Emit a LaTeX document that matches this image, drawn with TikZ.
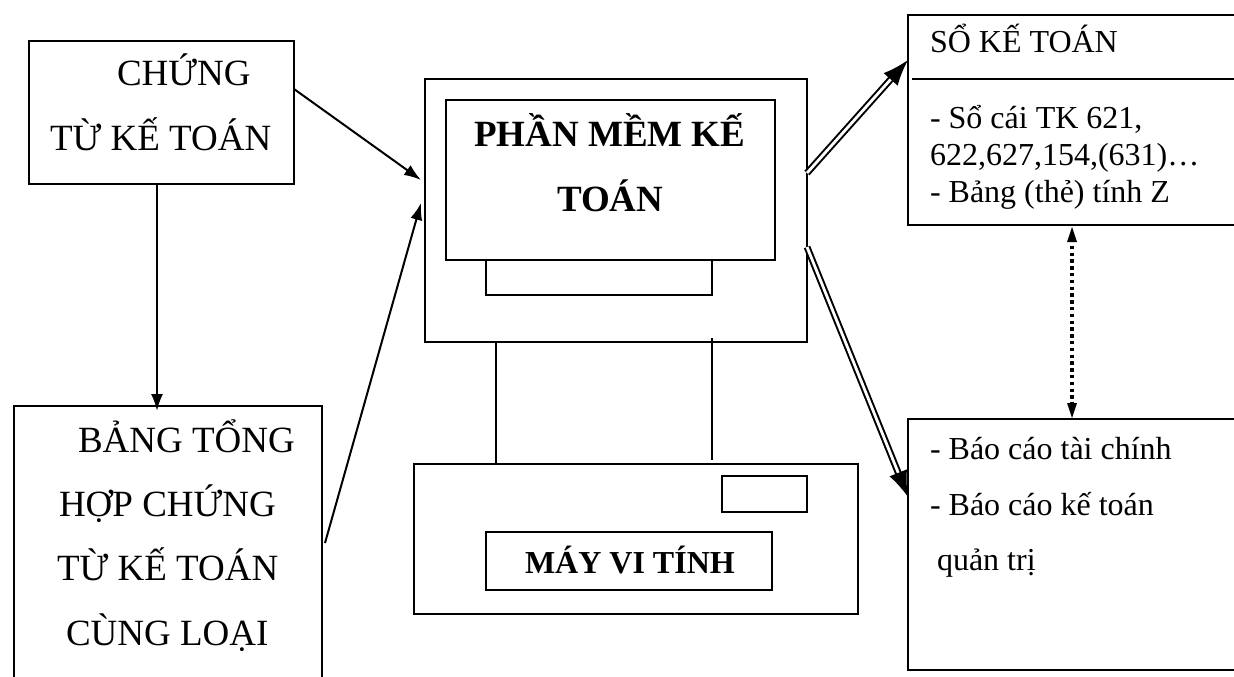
\documentclass[tikz,border=0pt]{standalone}
\usepackage{fontspec}
\setmainfont{Liberation Serif}
\usetikzlibrary{arrows.meta,calc}
\tikzset{
  box/.style={draw=black,line width=1.6pt,inner sep=0pt,outer sep=0pt,anchor=north west},
  lbl/.style={anchor=base west,inner sep=0pt,outer sep=0pt,font=\fontsize{32}{38}\selectfont,text=black},
  lblbig/.style={lbl,font=\fontsize{37}{44}\selectfont},
  lblb/.style={lbl,font=\fontsize{37}{44}\selectfont\bfseries},
  lblc/.style={lbl,font=\fontsize{32}{38}\selectfont\bfseries},
  link/.style={line width=2pt,draw=black,-{Latex[length=17pt,width=12pt]}},
  plain/.style={line width=1.6pt,draw=black},
  dbl/.style={line width=2pt,draw=black,double=white,double distance=2.8pt,-{Latex[length=26pt,width=19pt]}},
  dots/.style={line width=3.4pt,draw=black,dash pattern=on 3.4pt off 3.4pt},
  dothead/.style={draw=none,fill=black}
}
\begin{document}
\begin{tikzpicture}[x=1pt,y=-1pt]
\useasboundingbox (0,0) rectangle (1234,677);
\clip (0,0) rectangle (1234,677);
% boxes
\node[box,minimum width=265pt,minimum height=143pt] (ct) at (29,41) {};
\node[box,minimum width=308pt,minimum height=300pt] (bth) at (14,406) {};
\node[box,minimum width=382pt,minimum height=263pt] (mon) at (425,79) {};
\node[box,minimum width=329pt,minimum height=160pt] (scr) at (446,100) {};
\node[box,minimum width=226pt,minimum height=35pt] (base) at (486,260) {};
\node[box,minimum width=444pt,minimum height=150pt] (cpu) at (414,464) {};
\node[box,minimum width=85pt,minimum height=36pt] (slot) at (722,476) {};
\node[box,minimum width=286pt,minimum height=58pt] (name) at (486,532) {};
\node[box,minimum width=340pt,minimum height=210pt] (so) at (908,15) {};
\node[box,minimum width=340pt,minimum height=251pt] (bc) at (908,419) {};
% text
\node[lblbig] (t1) at (117,85) {CHỨNG};
\node[lblbig] (t2) at (50,150) {TỪ KẾ TOÁN};
\node[lblbig] (t3) at (78,452) {BẢNG TỔNG};
\node[lblbig] (t4) at (59,516) {HỢP CHỨNG};
\node[lblbig] (t5) at (57,580) {TỪ KẾ TOÁN};
\node[lblbig] (t6) at (66,645) {CÙNG LOẠI};
\node[lblb] (t7) at (474,146) {PHẦN MỀM KẾ};
\node[lblb] (t8) at (557,211) {TOÁN};
\node[lblc] (t9) at (525,573) {MÁY VI TÍNH};
\node[lbl] (t10) at (930,53) {SỔ KẾ TOÁN};
\node[lbl] (t11) at (930,128) {- Sổ cái TK 621,};
\node[lbl] (t12) at (930,165) {622,627,154,(631)…};
\node[lbl] (t13) at (930,202) {- Bảng (thẻ) tính Z};
\node[lbl] (t14) at (930,459) {- Báo cáo tài chính};
\node[lbl] (t15) at (930,515) {- Báo cáo kế toán};
\node[lbl] (t16) at (937,570) {quản trị};
% divider in the ledger box
\draw[plain] ($(so.north west)+(4,64)$) -- ($(so.north east)+(0,64)$);
% stand
\draw[plain] ($(mon.south west)+(71,0)$) -- ($(cpu.north west)+(82,0)$);
\draw[plain] ($(mon.south west)+(287,-4)$) -- ($(cpu.north west)+(298,-4)$);
% connectors
\draw[link] ($(ct.north east)+(0,48)$) -- ($(mon.north west)+(-4,101)$);
\draw[link] (ct.south -| 157,0) -- ($(bth.north west)+(143,5)$);
\draw[link] ($(bth.north east)+(3,137)$) -- ($(mon.north west)+(-4,124)$);
\draw[dbl] ($(mon.north east)+(0,94)$) -- ($(so.north west)+(0,45)$);
\draw[dbl] ($(mon.north east)+(0,168)$) -- ($(bc.north west)+(0,78)$);
\draw[dots,shorten <=12pt,shorten >=12pt] ($(so.south west)+(164,2)$) -- ($(bc.north west)+(164,-1)$);
\fill[dothead] ($(so.south west)+(164,2)$) -- ++(-5,15) -- ++(10,0) -- cycle;
\fill[dothead] ($(bc.north west)+(164,-1)$) -- ++(-5,-15) -- ++(10,0) -- cycle;
\end{tikzpicture}
\end{document}
